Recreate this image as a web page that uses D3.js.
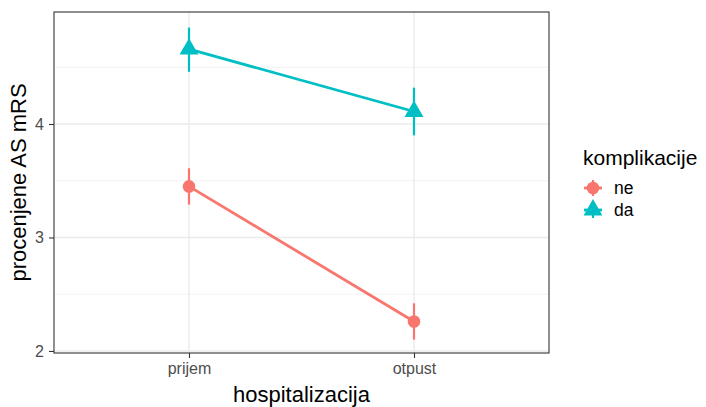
<!DOCTYPE html>
<html><head><meta charset="utf-8">
<script src="https://cdn.jsdelivr.net/npm/d3@7"></script>
<style>body{margin:0;background:#fff}svg{display:block}text{font-family:"Liberation Sans",Arial,sans-serif}</style>
</head><body>
<svg id="c" width="706" height="407"></svg>
<script>
const categories = ["prijem", "otpust"];
const groups = ["ne", "da"];
const neMean = [3.45, 2.26];
const neLow = [3.29, 2.10];
const neHigh = [3.61, 2.42];
const daMean = [4.66, 4.11];
const daLow = [4.46, 3.90];
const daHigh = [4.85, 4.32];
const yTicks = [2, 3, 4];
const colors = {ne: "#F8766D", da: "#00BFC4"};

const series = [
  {name: "ne", mean: neMean, low: neLow, high: neHigh, shape: d3.symbolCircle},
  {name: "da", mean: daMean, low: daLow, high: daHigh, shape: d3.symbolTriangle}
];

const svg = d3.select("#c");
const L = 54, R = 549, T = 12, B = 353;
const x = d3.scalePoint().domain(categories).range([L, R]).padding(0.6);
const y = d3.scaleLinear().domain([1.982, 4.987]).range([B, T]);

// grid
const g = svg.append("g");
const minor = [2.5, 3.5, 4.5];
g.selectAll(".mn").data(minor).join("line").attr("x1", L).attr("x2", R)
  .attr("y1", d => y(d)).attr("y2", d => y(d)).attr("stroke", "#F2F2F2").attr("stroke-width", 1);
g.selectAll(".mj").data(yTicks).join("line").attr("x1", L).attr("x2", R)
  .attr("y1", d => y(d)).attr("y2", d => y(d)).attr("stroke", "#EBEBEB").attr("stroke-width", 1.4);
g.selectAll(".vx").data(categories).join("line").attr("y1", T).attr("y2", B)
  .attr("x1", d => x(d)).attr("x2", d => x(d)).attr("stroke", "#EBEBEB").attr("stroke-width", 1.4);

// series
series.forEach(s => {
  const c = colors[s.name];
  const line = d3.line().x((d, i) => x(categories[i])).y(d => y(d));
  svg.append("path").datum(s.mean).attr("d", line).attr("fill", "none")
    .attr("stroke", c).attr("stroke-width", 2.8);
  svg.selectAll(null).data(categories).join("line")
    .attr("x1", d => x(d)).attr("x2", d => x(d))
    .attr("y1", (d, i) => y(s.low[i])).attr("y2", (d, i) => y(s.high[i]))
    .attr("stroke", c).attr("stroke-width", 2.2);
  svg.selectAll(null).data(categories).join("path")
    .attr("transform", (d, i) => `translate(${x(d)},${y(s.mean[i])})`)
    .attr("d", d3.symbol().type(s.shape).size(s.name === "ne" ? 125 : 155))
    .attr("fill", c);
});

// panel border
svg.append("rect").attr("x", L).attr("y", T).attr("width", R - L).attr("height", B - T)
  .attr("fill", "none").attr("stroke", "#333333").attr("stroke-width", 1.1);

// axes
const ax = svg.append("g").attr("transform", `translate(0,${B})`)
  .call(d3.axisBottom(x).tickSize(5).tickPadding(5));
const ay = svg.append("g").attr("transform", `translate(${L},0)`)
  .call(d3.axisLeft(y).tickValues(yTicks).tickFormat(d3.format("d")).tickSize(5).tickPadding(5));
[ax, ay].forEach(a => {
  a.select(".domain").remove();
  a.selectAll(".tick line").attr("stroke", "#333333").attr("stroke-width", 1.1);
  a.selectAll(".tick text").attr("fill", "#4D4D4D").style("font-size", "16px")
    .style("font-family", '"Liberation Sans",Arial,sans-serif');
});

svg.append("text").attr("x", (L + R) / 2).attr("y", 402).attr("text-anchor", "middle")
  .style("font-size", "22px").attr("fill", "#000").text("hospitalizacija");
svg.append("text").attr("transform", `translate(26,${(T + B) / 2}) rotate(-90)`)
  .attr("text-anchor", "middle").style("font-size", "22px").attr("fill", "#000")
  .text("procenjene AS mRS");

// legend
const lg = svg.append("g");
lg.append("text").attr("x", 583).attr("y", 165).style("font-size", "21px").text("komplikacije");
series.forEach((s, i) => {
  const yy = 188 + i * 22;
  lg.append("line").attr("x1", 584).attr("x2", 602).attr("y1", yy).attr("y2", yy)
    .attr("stroke", colors[s.name]).attr("stroke-width", 2.8);
  lg.append("line").attr("x1", 593).attr("x2", 593).attr("y1", yy - 8).attr("y2", yy + 8)
    .attr("stroke", colors[s.name]).attr("stroke-width", 2.2);
  lg.append("path").attr("transform", `translate(593,${yy})`)
    .attr("d", d3.symbol().type(s.shape).size(s.name === "ne" ? 125 : 155)).attr("fill", colors[s.name]);
  lg.append("text").attr("x", 614).attr("y", yy + 6).style("font-size", "17.5px").text(s.name);
});
</script>
</body></html>
